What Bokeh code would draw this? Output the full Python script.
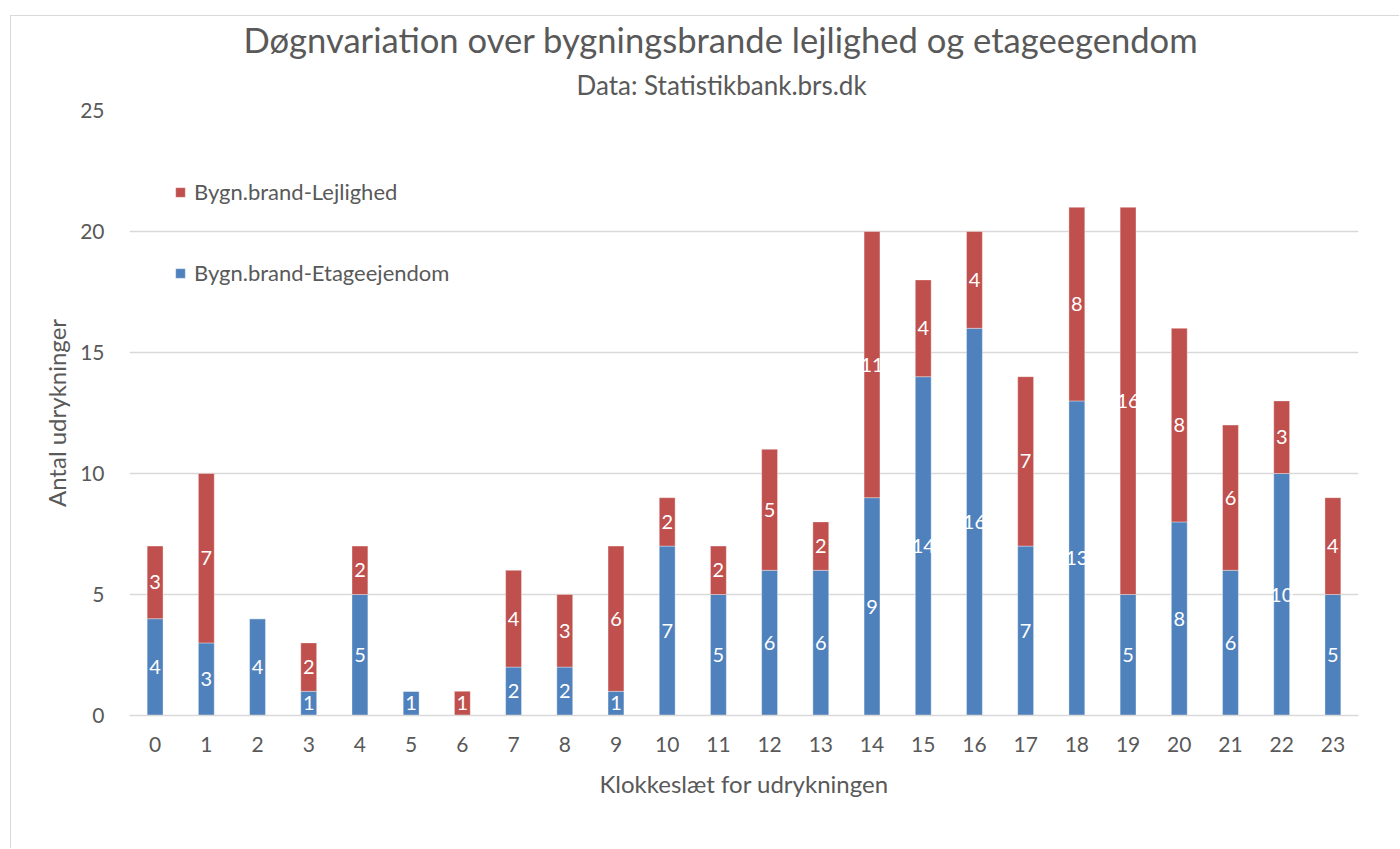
from bokeh.plotting import figure
from bokeh.models import ColumnDataSource, Legend, LegendItem, Title, FixedTicker, Range1d
from bokeh.embed import file_html
from bokeh.resources import INLINE
from bokeh.core.properties import value

# ---- data ----
hours = list(range(24))
etage = [4, 3, 4, 1, 5, 1, 0, 2, 2, 1, 7, 5, 6, 6, 9, 14, 16, 7, 13, 5, 8, 6, 10, 5]
lejlighed = [3, 7, 0, 2, 2, 0, 1, 4, 3, 6, 2, 2, 5, 2, 11, 4, 4, 7, 8, 16, 8, 6, 3, 4]
y_ticks = [0, 5, 10, 15, 20, 25]
series_names = ["Bygn.brand-Etageejendom", "Bygn.brand-Lejlighed"]
title_text = "Døgnvariation over bygningsbrande lejlighed og etageegendom"
subtitle_text = "Data: Statistikbank.brs.dk"
x_label = "Klokkeslæt for udrykningen"
y_label = "Antal udrykninger"

# ---- style ----
FONT = "Lato"
TXT = "#595959"
BLUE = "#4F81BD"
RED = "#C0504D"
GRID = "#D9D9D9"

src = ColumnDataSource(dict(x=hours, etage=etage, lejl=lejlighed))

p = figure(
    width=1389, height=833,
    x_range=Range1d(-0.5, 23.5), y_range=Range1d(0, 25),
    output_backend="svg", toolbar_location=None,
    min_border_left=118, min_border_top=94, min_border_right=42, min_border_bottom=134,
    title=title_text,
)
p.styles = {"margin-top": "15px", "margin-left": "10px",
            "border-top": "1px solid #D9D9D9", "border-left": "1px solid #D9D9D9"}

renderers = p.vbar_stack(["etage", "lejl"], x="x", width=0.31, source=src,
                         fill_color=[BLUE, RED], line_color="white", line_alpha=0.35, line_width=1)

# data labels
lx, ly, lt = [], [], []
for h, e, l in zip(hours, etage, lejlighed):
    if e > 0:
        lx.append(h); ly.append(e / 2); lt.append(str(e))
    if l > 0:
        lx.append(h); ly.append(e + l / 2); lt.append(str(l))
lab_src = ColumnDataSource(dict(x=lx, y=ly, t=lt))
p.text(x="x", y="y", text="t", source=lab_src, text_color="white",
       text_font=value(FONT), text_font_size="20px",
       text_align="center", text_baseline="middle")

# titles
p.title.text_font = FONT
p.title.text_font_size = "34.6px"
p.title.text_font_style = "normal"
p.title.text_color = TXT
p.title.align = "left"
p.title.offset = 114
p.title.standoff = -5
sub = Title(text=subtitle_text, text_font=FONT, text_font_size="26px",
            text_font_style="normal", text_color=TXT, align="left", offset=447, standoff=19)
p.add_layout(sub, "above")

# axes
p.xaxis.ticker = FixedTicker(ticks=hours)
p.yaxis.ticker = FixedTicker(ticks=y_ticks)
for ax in (p.xaxis[0], p.yaxis[0]):
    ax.major_tick_line_color = None
    ax.minor_tick_line_color = None
    ax.major_label_text_font = FONT
    ax.major_label_text_font_size = "21px"
    ax.major_label_text_color = TXT
    ax.axis_label_text_font = FONT
    ax.axis_label_text_font_size = "24px"
    ax.axis_label_text_font_style = "normal"
    ax.axis_label_text_color = TXT
p.xaxis.axis_label = x_label
p.yaxis.axis_label = y_label
p.xaxis.axis_line_color = GRID
p.xaxis.axis_line_width = 1.5
p.yaxis.axis_line_color = None
p.xaxis.major_label_standoff = 15
p.yaxis.major_label_standoff = 19
p.xaxis.axis_label_standoff = 14
p.yaxis.axis_label_standoff = 6

p.xgrid.visible = False
p.ygrid.grid_line_color = GRID
p.ygrid.grid_line_width = 1.5
p.outline_line_color = None

legend = Legend(items=[
    LegendItem(label=series_names[1], renderers=[renderers[1]]),
    LegendItem(label=series_names[0], renderers=[renderers[0]]),
], location=(45, 429))
legend.glyph_width = 12
legend.glyph_height = 12
legend.label_height = 26
legend.spacing = 54
legend.padding = 0
legend.margin = 0
legend.label_standoff = 8
legend.label_text_font = FONT
legend.label_text_font_size = "22px"
legend.label_text_color = TXT
legend.border_line_color = None
legend.background_fill_alpha = 0
p.add_layout(legend)

open("out.html", "w").write(file_html(p, INLINE))
